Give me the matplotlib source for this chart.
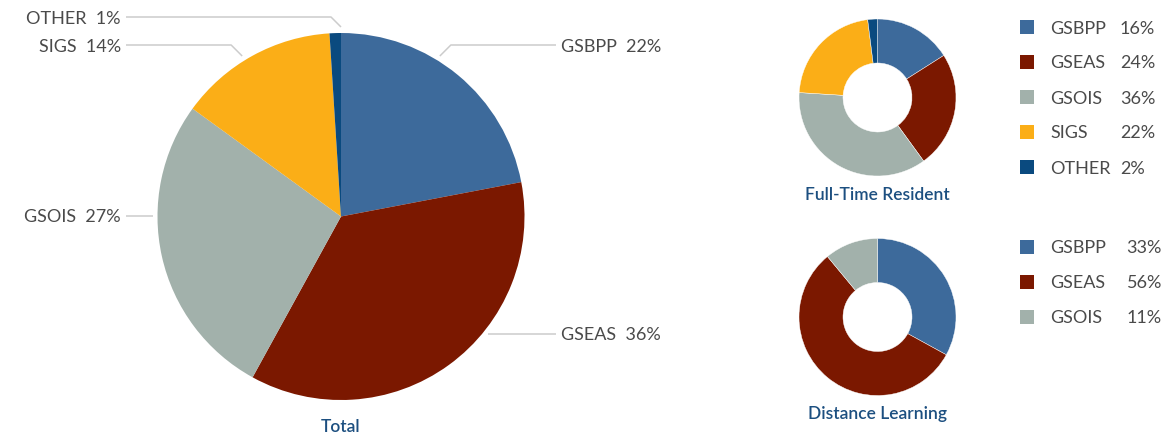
import matplotlib
matplotlib.use('Agg')
import matplotlib.pyplot as plt
import numpy as np

plt.rcParams['font.family'] = ['Lato', 'DejaVu Sans']

# ---- data ----
total_labels = ['GSBPP', 'GSEAS', 'GSOIS', 'SIGS', 'OTHER']
total_values = [22, 36, 27, 14, 1]
ft_labels = ['GSBPP', 'GSEAS', 'GSOIS', 'SIGS', 'OTHER']
ft_values = [16, 24, 36, 22, 2]
dl_labels = ['GSBPP', 'GSEAS', 'GSOIS']
dl_values = [33, 56, 11]
titles = ['Total', 'Full-Time Resident', 'Distance Learning']

colors = {'GSBPP': '#3d6a9b', 'GSEAS': '#7b1800', 'GSOIS': '#a2b1ab',
          'SIGS': '#fbae17', 'OTHER': '#0a4a7f'}

W, H = 1167, 437
fig = plt.figure(figsize=(W / 100, H / 100), dpi=100)
ax = fig.add_axes([0, 0, 1, 1])

def Y(py):
    return H - py

TEXT = '#4a4a4a'
LINE = '#cccccc'
TITLE = '#1c4f80'

# ---- main pie ----
cx, cy, R = 341, 216.5, 183.5
ax.pie(total_values, colors=[colors[l] for l in total_labels], startangle=90,
       counterclock=False, radius=R, center=(cx, Y(cy)),
       wedgeprops=dict(edgecolor='none', linewidth=0), frame=True)

label_y = {'GSBPP': 45, 'GSEAS': 334, 'GSOIS': 216, 'SIGS': 45, 'OTHER': 17}
kink = {'GSBPP': 11, 'GSEAS': 0, 'GSOIS': 0, 'SIGS': 11, 'OTHER': 10}
cum = np.cumsum([0] + total_values)
tot = sum(total_values)
R2 = R + 5
for i, name in enumerate(total_labels):
    mid = 90 - 360 * (cum[i] + total_values[i] / 2) / tot
    side = 1 if np.cos(np.radians(mid)) > 0 else -1
    ly = label_y[name]
    k = kink[name]
    ys = ly + k
    dx = np.sqrt(max(R2 ** 2 - (ys - cy) ** 2, 0))
    xs = cx + side * dx
    xe = xs + side * k
    xend = cx + side * 215
    ax.plot([xs, xe, xend], [Y(ys), Y(ly), Y(ly)], color=LINE, lw=1.1,
            solid_capstyle='butt', zorder=1)
    ax.text(xend + side * 5, Y(ly), f'{name}  {total_values[i]}%',
            ha='left' if side > 0 else 'right', va='center_baseline',
            fontsize=13, color=TEXT, fontweight='normal')

ax.text(cx, Y(426), titles[0], ha='center', va='center_baseline',
        fontsize=12.5, color=TITLE, fontweight='semibold')

# ---- donuts ----
dcx = 877.5
donuts = [(ft_labels, ft_values, 97.5, 193, titles[1], 27, 1120, 'left'),
          (dl_labels, dl_values, 317, 413, titles[2], 246.5, 1162, 'right')]
r_out, r_in = 78.5, 34.5
for labels, values, dcy, ty, title, ly0, px, pha in donuts:
    ax.pie(values, colors=[colors[l] for l in labels], startangle=90,
           counterclock=False, radius=r_out, center=(dcx, Y(dcy)),
           wedgeprops=dict(width=r_out - r_in, edgecolor='white', linewidth=0.3),
           frame=True)
    ax.text(dcx, Y(ty), title, ha='center', va='center_baseline',
            fontsize=12.5, color=TITLE, fontweight='semibold')
    for j, (l, v) in enumerate(zip(labels, values)):
        yy = ly0 + 35 * j
        ax.add_patch(plt.Rectangle((1020, Y(yy) - 7), 14, 14,
                                   facecolor=colors[l], edgecolor='none'))
        ax.text(1050, Y(yy), l, ha='left', va='center_baseline', fontsize=13,
                color=TEXT, fontweight='normal')
        ax.text(px, Y(yy), f'{v}%', ha=pha, va='center_baseline', fontsize=13,
                color=TEXT, fontweight='normal')

ax.set_xlim(0, W)
ax.set_ylim(0, H)
ax.set_aspect('equal')
ax.axis('off')

fig.savefig('out.png', dpi=100, facecolor='white')
